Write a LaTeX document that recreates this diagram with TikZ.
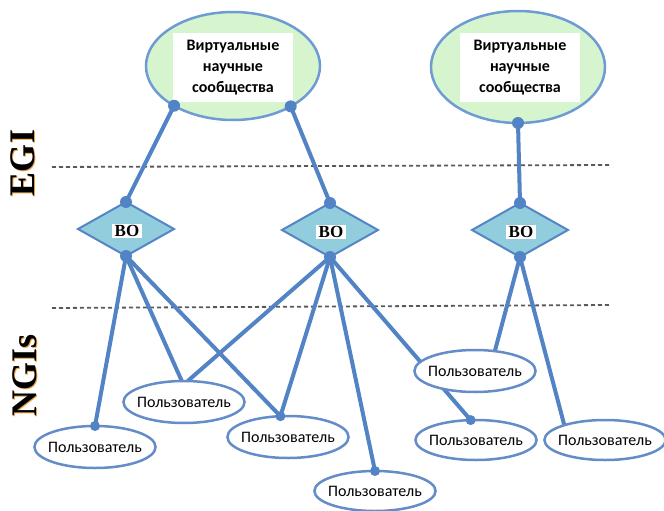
\documentclass[tikz,border=0pt]{standalone}
\usepackage{fontspec}
\setmainfont{Liberation Serif}
\newfontfamily\calfont{Carlito}
\usetikzlibrary{shapes.geometric}
\pgfdeclarelayer{dashlayer}
\pgfdeclarelayer{linelayer}
\pgfsetlayers{dashlayer,linelayer,main}
\definecolor{linkblue}{RGB}{82,131,196}
\definecolor{ellblue}{RGB}{110,155,212}
\definecolor{ellgreen}{RGB}{214,245,206}
\definecolor{diafill}{RGB}{146,205,221}
\definecolor{diaedge}{RGB}{84,133,196}
\definecolor{userblue}{RGB}{100,140,200}
\definecolor{shadoworange}{RGB}{232,160,70}
\tikzset{
  bigell/.style={ellipse, draw=ellblue, line width=2.5pt, fill=ellgreen, inner sep=0pt, outer sep=0pt},
  txtbox/.style={fill=white, minimum width=120pt, minimum height=69pt, inner sep=0pt, align=center,
     font=\calfont\bfseries\fontsize{16}{21}\selectfont},
  bodia/.style={diamond, draw=diaedge, line width=2pt, fill=diafill, minimum width=96pt, minimum height=54pt, inner sep=0pt, outer sep=0pt},
  bolabel/.style={fill=white, inner xsep=2.5pt, inner ysep=1.5pt, font=\bfseries\fontsize{17}{17}\selectfont},
  user/.style={ellipse, draw=userblue, line width=2.5pt, fill=white, minimum width=120pt, minimum height=42pt,
     inner xsep=-4pt, inner ysep=0pt, outer sep=0pt,
     font=\calfont\fontsize{16}{16}\selectfont},
  link/.style={draw=linkblue, line width=4pt},
  dotmark/.style={fill=linkblue},
  dashline/.style={draw=black!65, line width=1.8pt, dash pattern=on 4pt off 3pt},
  sidelabel/.style={rotate=90, font=\bfseries\fontsize{36}{36}\selectfont, inner sep=0pt}
}
\begin{document}
\begin{tikzpicture}[x=1pt,y=-1pt]
\useasboundingbox (0,0) rectangle (664,511);

% side labels with shadow
\node[sidelabel, text=shadoworange] (egis) at (24,164) {EGI};
\node[sidelabel] (egi) at (23,163) {EGI};
\node[sidelabel, text=shadoworange] (ngiss) at (26,376) {NGIs};
\node[sidelabel] (ngis) at (25,375) {NGIs};

% communities
\node[bigell, minimum width=174pt, minimum height=108pt] (ve1) at (233,66) {};
\node[txtbox] (t1) at (233,67.5) {Виртуальные\\научные\\сообщества};
\node[bigell, minimum width=174pt, minimum height=112pt] (ve2) at (518,67) {};
\node[txtbox] (t2) at (520,67.5) {Виртуальные\\научные\\сообщества};

% VOs
\node[bodia] (bo1) at (126,229) {};
\node[bolabel] (l1) at (127,231) {ВО};
\node[bodia] (bo2) at (330,230) {};
\node[bolabel] (l2) at (331,232) {ВО};
\node[bodia] (bo3) at (520,230) {};
\node[bolabel] (l3) at (521,232) {ВО};

% users
\node[user] (u1) at (95,447) {Пользователь};
\node[user] (u2) at (184,402) {Пользователь};
\node[user] (u3) at (288,437) {Пользователь};
\node[user] (u4) at (475,371) {Пользователь};
\node[user, minimum height=40pt] (u5) at (375,491) {Пользователь};
\node[user, minimum height=40pt] (u6) at (476,440) {Пользователь};
\node[user, minimum width=114pt, minimum height=40pt] (u7) at (605,440) {Пользователь};

% dashed separators
\begin{pgfonlayer}{dashlayer}
\coordinate (d1a) at (52,167);
\coordinate (d1b) at (610,165);
\coordinate (d2a) at (52,308);
\coordinate (d2b) at (610,305);
\draw[dashline] (d1a) -- (d1b);
\draw[dashline] (d2a) -- (d2b);
\end{pgfonlayer}

% connectors
\begin{pgfonlayer}{linelayer}
\draw[link] (ve1.214) -- (bo1.north);
\draw[link] (ve1.325) -- (bo2.north);
\draw[link] (ve2.south) -- (bo3.north);
\draw[link] (bo1.south) -- (u1.north);
\draw[link] (bo1.south) -- (u2.96);
\draw[link] (bo1.south) -- (u3.110);
\draw[link] (bo2.south) -- (u2.80);
\draw[link] (bo2.south) -- (u3.110);
\draw[link] (bo2.south) -- (u5.north);
\draw[link] (bo2.south) -- (u6.105);
\draw[link] (bo3.south) -- (u4.45);
\draw[link] (bo3.south) -- (u7.160);
\end{pgfonlayer}

% dots
\foreach \p in {ve1.214, ve1.325, ve2.south, bo1.north, bo1.south, bo2.north, bo2.south, bo3.north, bo3.south}
  \fill[dotmark] (\p) circle (6pt);
\foreach \p in {u1.north, u3.110, u5.north, u6.105}
  \fill[dotmark] (\p) circle (5pt);
\end{tikzpicture}
\end{document}
